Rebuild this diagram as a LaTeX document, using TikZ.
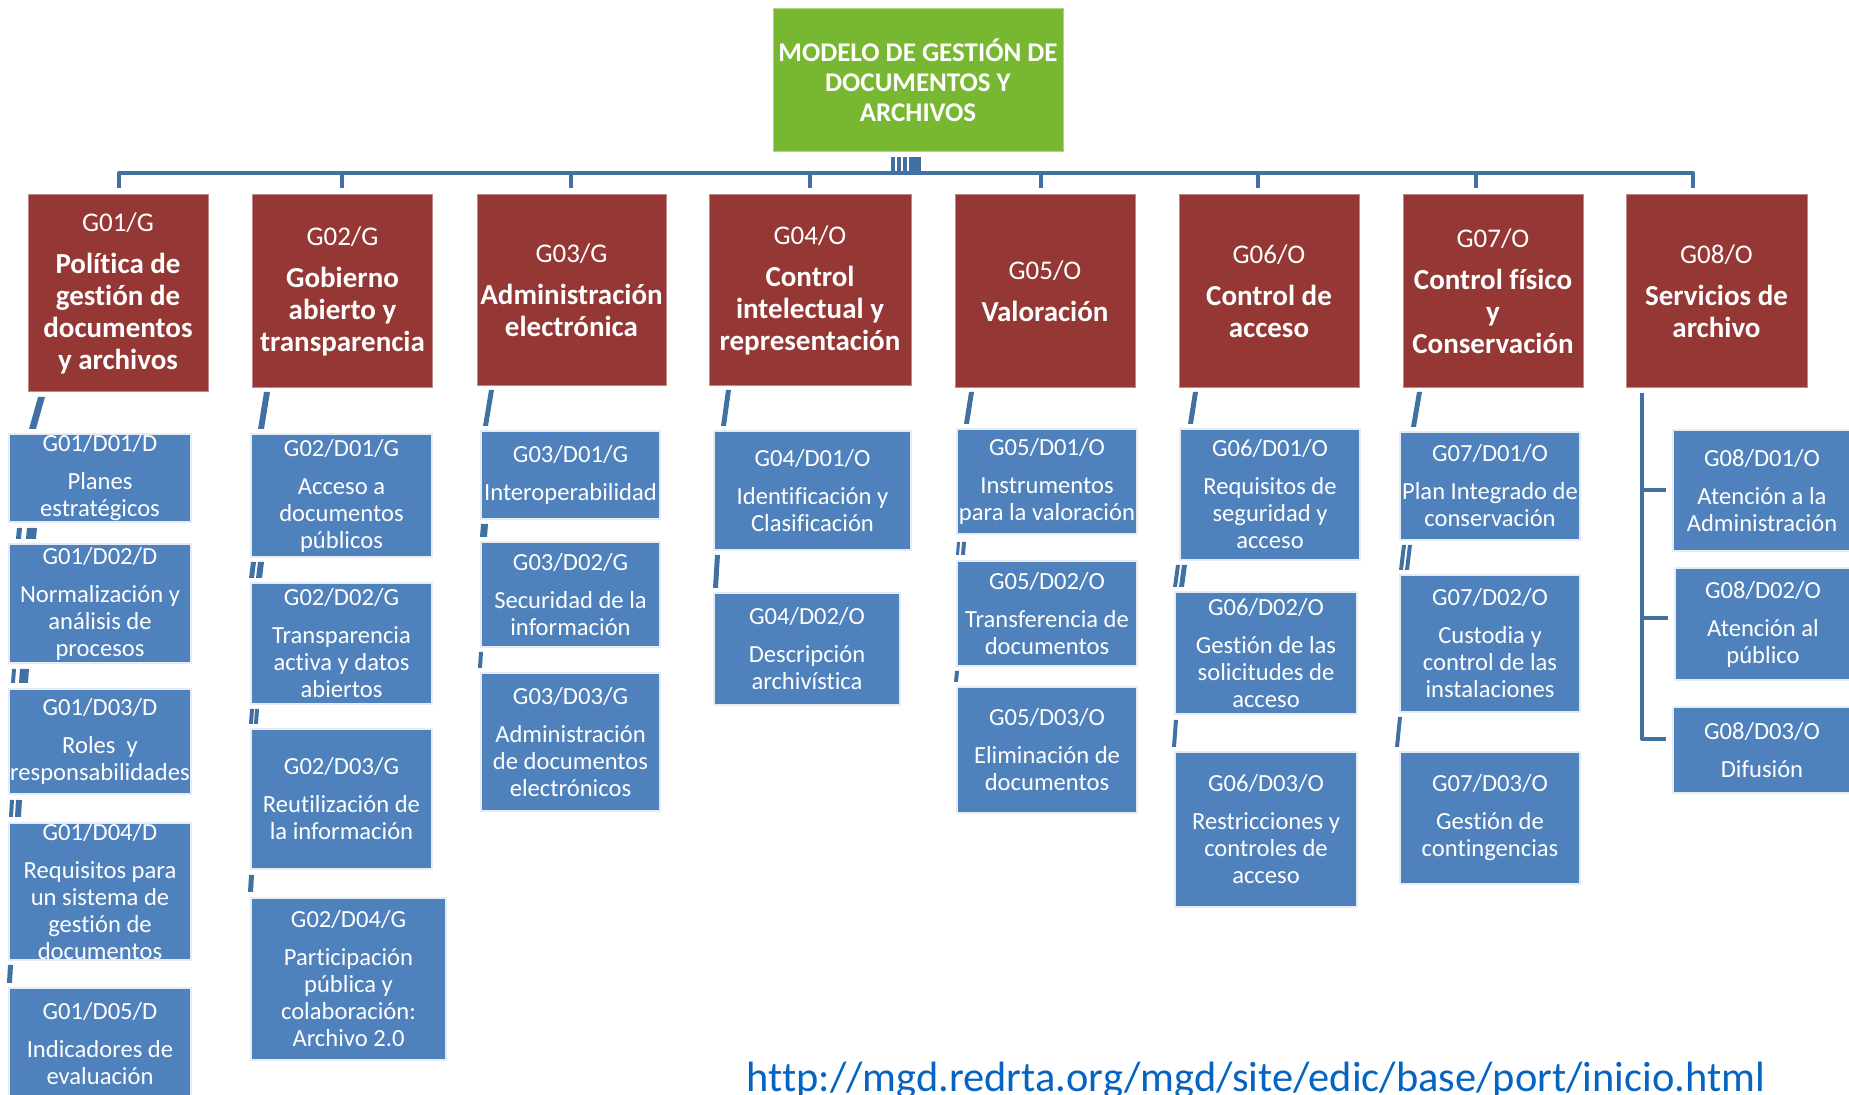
\documentclass[tikz,border=0pt]{standalone}
\usepackage{fontspec}
\setmainfont{Carlito}[Ligatures=NoCommon]
\usepackage{tikz}
\usetikzlibrary{positioning,calc}
\definecolor{topgreen}{RGB}{120,183,50}
\definecolor{grpred}{RGB}{149,55,53}
\definecolor{fnblue}{RGB}{79,129,189}
\definecolor{connblue}{RGB}{65,113,163}
\definecolor{urlblue}{RGB}{5,99,193}
\newcommand{\gcode}[1]{{\fontsize{13.5}{16}\selectfont\mdseries #1}}

\begin{document}
\begin{tikzpicture}[x=0.5pt, y=-0.5pt,
  mgdbox/.style={rectangle, fill=topgreen, draw=topgreen!60!white, line width=0.5pt,
                 text=white, minimum width=145pt, minimum height=71.5pt, inner sep=0pt,
                 align=center, font=\fontsize{13.5}{15}\selectfont\bfseries},
  grp/.style={rectangle, fill=grpred, draw=grpred!60!white, line width=0.5pt,
              text=white, anchor=north, minimum width=90pt, minimum height=96.5pt,
              inner sep=0pt, align=center, font=\fontsize{14.5}{16}\selectfont\bfseries},
  fn/.style 2 args={rectangle, fill=fnblue, draw=white!85!fnblue, line width=0.6pt,
                    text=white, minimum width=#1, minimum height=#2, inner sep=0pt,
                    align=center, font=\fontsize{12.3}{13.5}\selectfont},
  conn/.style={connblue, line width=2pt, line join=round},
  glitch/.style={fill=connblue},
  urltext/.style={urlblue, font=\fontsize{21.2}{24}\selectfont},
]
  \useasboundingbox (0,0) rectangle (1849,1095);

  \node[mgdbox] (mgd) at (918,80.5) {MODELO DE GESTIÓN DE\\DOCUMENTOS Y\\ARCHIVOS};

  \node[grp, minimum height=98.5pt] (g01) at (118,194)
    {\gcode{G01/G}\\[5pt]Política de\\gestión de\\documentos\\y archivos};
  \node[grp] (g02) at (342.5,194)
    {\gcode{G02/G}\\[5pt]Gobierno\\abierto y\\transparencia};
  \node[grp, minimum width=94.5pt, minimum height=95.5pt] (g03) at (571.5,194)
    {\gcode{G03/G}\\[5pt]Administración\\electrónica};
  \node[grp, minimum width=101pt, minimum height=95.5pt] (g04) at (810,194)
    {\gcode{G04/O}\\[5pt]Control\\intelectual y\\representación};
  \node[grp] (g05) at (1045,194) {\gcode{G05/O}\\[5pt]Valoración};
  \node[grp] (g06) at (1269,194) {\gcode{G06/O}\\[5pt]Control de\\acceso};
  \node[grp] (g07) at (1493,194)
    {\gcode{G07/O}\\[5pt]Control físico\\y\\Conservación};
  \node[grp, minimum width=90.5pt] (g08) at (1716.5,194)
    {\gcode{G08/O}\\[5pt]Servicios de\\archivo};

  \node[fn={91pt}{44pt}] (g01d01) at (100,478) {G01/D01/D\\[5.5pt]Planes\\estratégicos};
  \node[fn={91pt}{59.5pt}] (g01d02) at (100,603.5)
    {G01/D02/D\\[5.5pt]Normalización y\\análisis de\\procesos};
  \node[fn={91pt}{52.5pt}] (g01d03) at (100,741.5)
    {G01/D03/D\\[5.5pt]Roles~ y\\responsabilidades};
  \node[fn={91pt}{68.5pt}] (g01d04) at (100,891.5)
    {G01/D04/D\\[5.5pt]Requisitos para\\un sistema de\\gestión de\\documentos};
  \node[fn={91pt}{56pt}] (g01d05) at (100,1044)
    {G01/D05/D\\[5.5pt]Indicadores de\\evaluación};

  \node[fn={90.5pt}{61.5pt}] (g02d01) at (341.5,495.5)
    {G02/D01/G\\[5.5pt]Acceso a\\documentos\\públicos};
  \node[fn={90.5pt}{60.5pt}] (g02d02) at (341.5,643.5)
    {G02/D02/G\\[5.5pt]Transparencia\\activa y datos\\abiertos};
  \node[fn={90.5pt}{70pt}] (g02d03) at (341.5,799)
    {G02/D03/G\\[5.5pt]Reutilización de\\la información};
  \node[fn={97.5pt}{81pt}] (g02d04) at (348.5,979)
    {G02/D04/G\\[5.5pt]Participación\\pública y\\colaboración:\\Archivo 2.0};

  \node[fn={89.5pt}{44pt}] (g03d01) at (570.5,475) {G03/D01/G\\[5.5pt]Interoperabilidad};
  \node[fn={89.5pt}{52.5pt}] (g03d02) at (570.5,594.5)
    {G03/D02/G\\[5.5pt]Securidad de la\\información};
  \node[fn={89.5pt}{69pt}] (g03d03) at (570.5,742)
    {G03/D03/G\\[5.5pt]Administración\\de documentos\\electrónicos};

  \node[fn={98.5pt}{59.5pt}] (g04d01) at (812.5,490.5)
    {G04/D01/O\\[5.5pt]Identificación y\\Clasificación};
  \node[fn={93pt}{56pt}] (g04d02) at (807,649)
    {G04/D02/O\\[5.5pt]Descripción\\archivística};

  \node[fn={90pt}{52.5pt}] (g05d01) at (1047,481.5)
    {G05/D01/O\\[5.5pt]Instrumentos\\para la valoración};
  \node[fn={90pt}{52.5pt}] (g05d02) at (1047,613.5)
    {G05/D02/O\\[5.5pt]Transferencia de\\documentos};
  \node[fn={90pt}{63pt}] (g05d03) at (1047,750)
    {G05/D03/O\\[5.5pt]Eliminación de\\documentos};

  \node[fn={90pt}{65.5pt}] (g06d01) at (1270,494.5)
    {G06/D01/O\\[5.5pt]Requisitos de\\seguridad y\\acceso};
  \node[fn={91pt}{61pt}] (g06d02) at (1266,653)
    {G06/D02/O\\[5.5pt]Gestión de las\\solicitudes de\\acceso};
  \node[fn={91pt}{77.5pt}] (g06d03) at (1266,829.5)
    {G06/D03/O\\[5.5pt]Restricciones y\\controles de\\acceso};

  \node[fn={90pt}{54pt}] (g07d01) at (1490,486)
    {G07/D01/O\\[5.5pt]Plan Integrado de\\conservación};
  \node[fn={90pt}{68.5pt}] (g07d02) at (1490,643.5)
    {G07/D02/O\\[5.5pt]Custodia y\\control de las\\instalaciones};
  \node[fn={90pt}{66pt}] (g07d03) at (1490,818)
    {G07/D03/O\\[5.5pt]Gestión de\\contingencias};

  \node[fn={89pt}{60.5pt}] (g08d01) at (1762,490.5)
    {G08/D01/O\\[5.5pt]Atención a la\\Administración};
  \node[fn={88pt}{56pt}] (g08d02) at (1763,624)
    {G08/D02/O\\[5.5pt]Atención al\\público};
  \node[fn={89pt}{43pt}] (g08d03) at (1762,750) {G08/D03/O\\[5.5pt]Difusión};

  \coordinate (bus) at (918,173);
  \draw[conn] ([xshift=0.5pt, yshift=3pt]g01.north) |- (bus)
    -| ([xshift=-11.75pt, yshift=3pt]g08.north);
  \foreach \g/\dx in {g02/-0.25, g03/-0.25, g04/0, g05/-2, g06/-5.5, g07/-8.5}{
    \draw[conn] ([xshift=\dx pt, yshift=3pt]\g.north) -- ([xshift=\dx pt]\g.north |- bus);
  }
  \foreach \x/\w in {891/4, 897/4, 903/4, 909/12}{
    \fill[glitch] (\x,157) rectangle ++(\w,15);
  }

  \draw[conn] ([xshift=-37.25pt, yshift=-2.5pt]g08.south)
    |- ([xshift=-3pt, yshift=5.5pt]g08d03.west);
  \draw[conn] ([xshift=-37.25pt]g08.south |- g08d01.west) -- ([xshift=-3pt]g08d01.west);
  \draw[conn] ([xshift=-37.25pt, yshift=3pt]g08.south |- g08d02.west)
    -- ([xshift=-3pt, yshift=3pt]g08d02.west);

  \foreach \x/\y/\w/\h/\s in {
      38/397/7/32/9, 17/528/5/11/1, 27/528/10/11/1, 12/669/4/14/1, 20/669/9/14/1,
      10/800/4/17/1, 16/800/6/17/1, 8/965/5/18/1,
      264/392/6/37/6, 251/562/5/16/2, 258/562/6/16/2, 250/709/4/15/1, 255/709/4/15/1,
      249/875/5/17/1,
      489/390/5/36/6, 481/524/7/13/1, 479/652/4/16/1,
      726/390/5/36/5, 715/555/5/33/2,
      969/392/5/32/5, 957/542/3/13/1, 962/542/4/13/1, 955/671/4/11/1,
      1193/392/5/32/5, 1176/565/4/22/3, 1182/565/5/22/3, 1174/720/4/27/2,
      1417/392/5/35/6, 1402/545/4/25/3, 1408/545/4/25/3, 1398/717/4/30/3}{
    \fill[glitch] (\x,\y) -- ++(\w,0) -- ++(-\s,\h) -- ++(-\w,0) -- cycle;
  }

  \node[urltext, anchor=base] (url) at (1256,1092)
    {http://mgd.redrta.org/mgd/site/edic/base/port/inicio.html};
\end{tikzpicture}
\end{document}
